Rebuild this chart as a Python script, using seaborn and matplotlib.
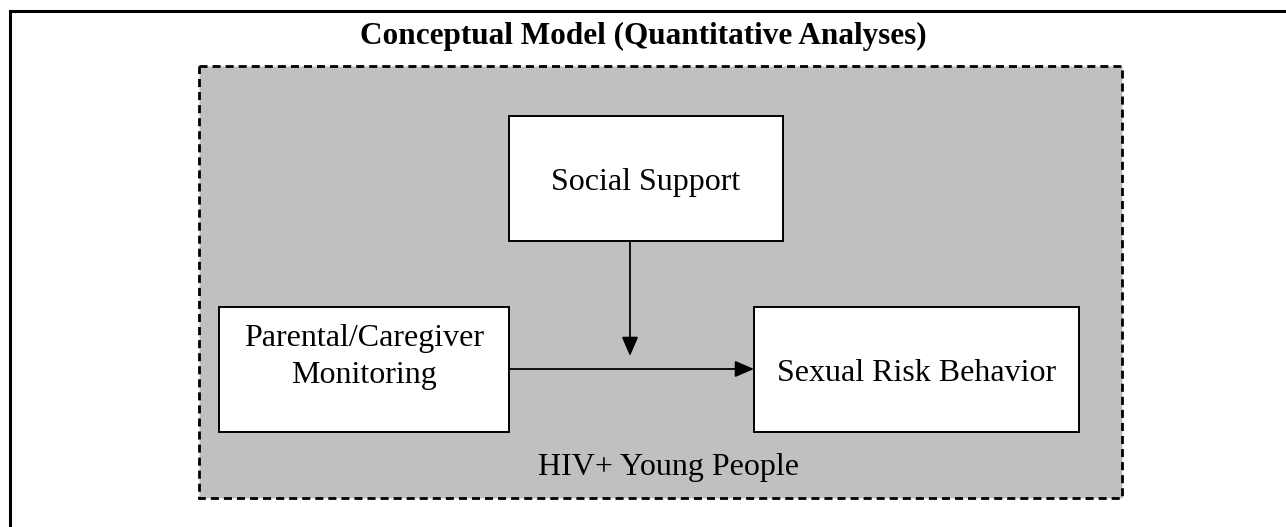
import matplotlib
matplotlib.use("Agg")
import matplotlib.pyplot as plt
import matplotlib.patches as patches
import seaborn as sns

# diagram content
title = "Conceptual Model (Quantitative Analyses)"
group_label = "HIV+ Young People"
node_names = ["moderator", "predictor", "outcome"]
node_labels = ["Social Support", "Parental/Caregiver\nMonitoring", "Sexual Risk Behavior"]

sns.set_theme(style="white")
plt.rcParams["font.family"] = ["Liberation Serif", "DejaVu Serif"]
plt.rcParams["text.color"] = "black"

W, H = 1286, 527
fig = plt.figure(figsize=(W / 100, H / 100), dpi=100)
ax = fig.add_axes([0, 0, 1, 1])
ax.set_xlim(0, W)
ax.set_ylim(H, 0)
ax.axis("off")

# layout in pixel units (x0, y0, x1, y1)
boxes = {
    "moderator": (509, 116, 783, 241),
    "predictor": (219, 307, 509, 432),
    "outcome": (754, 307, 1079, 432),
}
group_box = (199, 66, 1122, 498)

# outer frame (left and top edges only)
ax.plot([10, 10, W], [H, 11, 11], color="black", lw=2.2, solid_joinstyle="miter")

# dashed grey group area
gx0, gy0, gx1, gy1 = group_box
ax.add_patch(patches.Rectangle((gx0, gy0), gx1 - gx0, gy1 - gy0,
                               facecolor="#c0c0c0", edgecolor="black",
                               lw=2.0, linestyle=(0, (2.9, 1.8))))

for name, label in zip(node_names, node_labels):
    x0, y0, x1, y1 = boxes[name]
    ax.add_patch(patches.Rectangle((x0, y0), x1 - x0, y1 - y0,
                                   facecolor="white", edgecolor="black", lw=1.4))
    if "\n" in label:
        ax.text((x0 + x1) / 2, 357, label, ha="center", va="center",
                fontsize=23, linespacing=1.32, color="black")
    else:
        ax.text((x0 + x1) / 2, (y0 + y1) / 2 + 4, label, ha="center", va="center",
                fontsize=23, color="black")

arrow_kw = dict(arrowstyle="-|>,head_length=0.58,head_width=0.25", color="black",
                lw=1.3, mutation_scale=20, shrinkA=0, shrinkB=0)

# predictor -> outcome
ax.annotate("", xy=(boxes["outcome"][0], 369), xytext=(boxes["predictor"][2], 369),
            arrowprops=arrow_kw)

# moderator -> path
ax.annotate("", xy=(630, 356), xytext=(630, boxes["moderator"][3]), arrowprops=arrow_kw)

ax.text(643, 36, title, ha="center", va="center", fontsize=22.5,
        fontweight="bold", color="black")
ax.text(668, 468, group_label, ha="center", va="center", fontsize=23, color="black")

fig.savefig("out.png", dpi=100)
